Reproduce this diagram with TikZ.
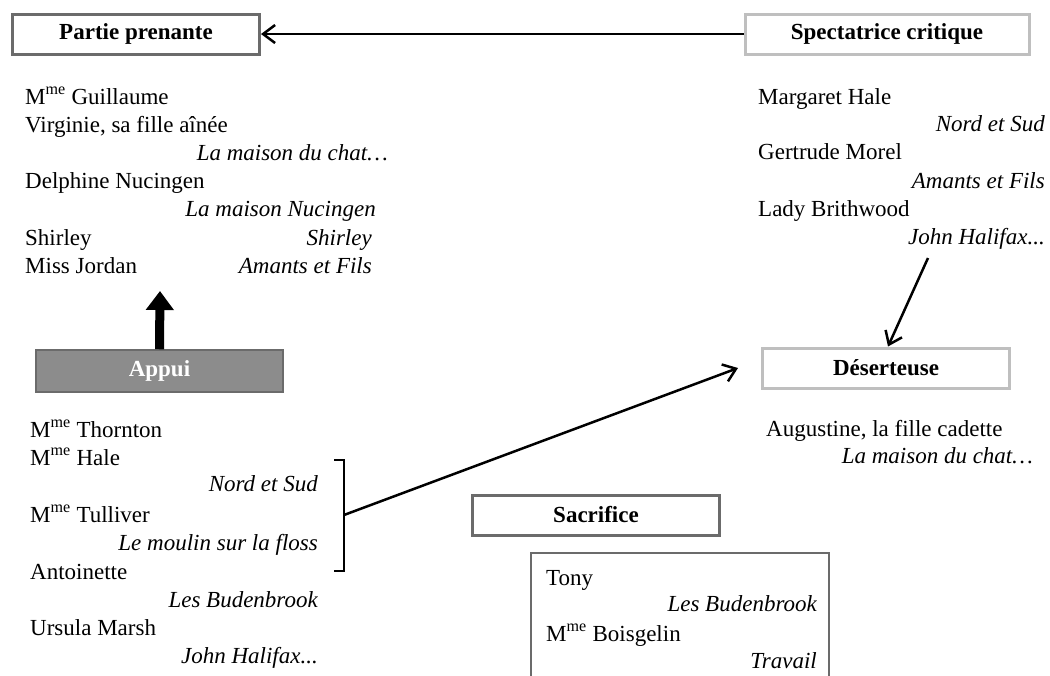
\documentclass[tikz,border=0pt]{standalone}
\usepackage{fontspec}
\setmainfont{Liberation Serif}
\usetikzlibrary{arrows.meta}
\newcommand{\madame}{M\textsuperscript{me}}
\newcommand{\bodysize}{\fontsize{23}{28}\selectfont}
\definecolor{darkgrey}{gray}{0.42}
\definecolor{lightgrey}{gray}{0.75}
\definecolor{fillgrey}{gray}{0.55}
\tikzset{
  rolebox/.style={draw=#1, line width=3pt, minimum width=247pt, minimum height=40pt,
    inner sep=0pt, font=\bodysize\bfseries},
  entry/.style={anchor=base west, inner sep=0pt},
  work/.style={anchor=base east, inner sep=0pt, font=\bodysize\itshape},
  link/.style={-{Straight Barb[length=12pt,width=18pt,line width=2.5pt]}, line width=2.5pt}
}
\begin{document}
\begin{tikzpicture}[x=1pt, y=-1pt, font=\bodysize]
\useasboundingbox (0,0) rectangle (1050,675);

% the five roles
\node[rolebox=darkgrey] (partie) at (136,34) {Partie prenante};
\node[rolebox=lightgrey, minimum width=284pt] (spect) at (887,34) {Spectatrice critique};
\node[rolebox=lightgrey] (desert) at (886,368) {Déserteuse};
\node[rolebox=darkgrey] (sacr) at (596,515) {Sacrifice};
\node[draw=darkgrey, fill=fillgrey, line width=1.5pt, minimum width=247pt, minimum height=42pt,
  inner sep=0pt, font=\bodysize\bfseries, text=white] (appui) at (159.5,371) {Appui};

% partie prenante
\node[entry] (guil) at (25,104) {\madame{} Guillaume};
\node[entry] (virg) at (25,132) {Virginie, sa fille aînée};
\node[work] (chat) at (388,160) {La maison du chat…};
\node[entry] (delph) at (25,188) {Delphine Nucingen};
\node[work] (nuc) at (376,216) {La maison Nucingen};
\node[entry] (shir) at (25,245) {Shirley};
\node[work] (shirw) at (372,245) {Shirley};
\node[entry] (jord) at (25,273) {Miss Jordan};
\node[work] (amants) at (372,273) {Amants et Fils};

% spectatrice critique
\node[entry] (marg) at (758,104) {Margaret Hale};
\node[work] (nord) at (1045,131) {Nord et Sud};
\node[entry] (gert) at (758,159) {Gertrude Morel};
\node[work] (amants2) at (1045,188) {Amants et Fils};
\node[entry] (lady) at (758,216) {Lady Brithwood};
\node[work] (halif) at (1045,244) {John Halifax...};

% deserteuse
\node[entry] (aug) at (766,436) {Augustine, la fille cadette};
\node[work] (chat2) at (1033,463) {La maison du chat…};

% appui
\node[entry] (thorn) at (30,437) {\madame{} Thornton};
\node[entry] (hale) at (30,465) {\madame{} Hale};
\node[work] (nord2) at (318,491) {Nord et Sud};
\node[entry] (tull) at (30,522) {\madame{} Tulliver};
\node[work] (floss) at (318,550) {Le moulin sur la floss};
\node[entry] (anto) at (30,579) {Antoinette};
\node[work] (bud) at (318,607) {Les Budenbrook};
\node[entry] (urs) at (30,635) {Ursula Marsh};
\node[work] (halif2) at (318,663) {John Halifax...};

% sacrifice
\draw[darkgrey, line width=1.2pt] (531,676) -- (531,553) -- (829,553) -- (829,676);
\node[entry] (tony) at (546,585) {Tony};
\node[work] (bud2) at (817,611) {Les Budenbrook};
\node[entry] (bois) at (546,641) {\madame{} Boisgelin};
\node[work] (trav) at (817,668) {Travail};

% bracket and arrows
\draw[line width=2pt] (334,460) -- (344,460) -- (344,571) -- (334,571);
\coordinate (brack) at (344,515);
\coordinate (toward) at (738,368);
\coordinate (from) at (928,258);
\coordinate (up) at (160,291);
\draw[link] (spect.west) -- (partie.east);
\draw[link] (brack) -- (toward);
\draw[link] (from) -- (desert.north -| 888,0);
\draw[line width=9pt, -{Triangle[length=19pt,width=27pt]}] (appui.north) -- (up);

\end{tikzpicture}
\end{document}
